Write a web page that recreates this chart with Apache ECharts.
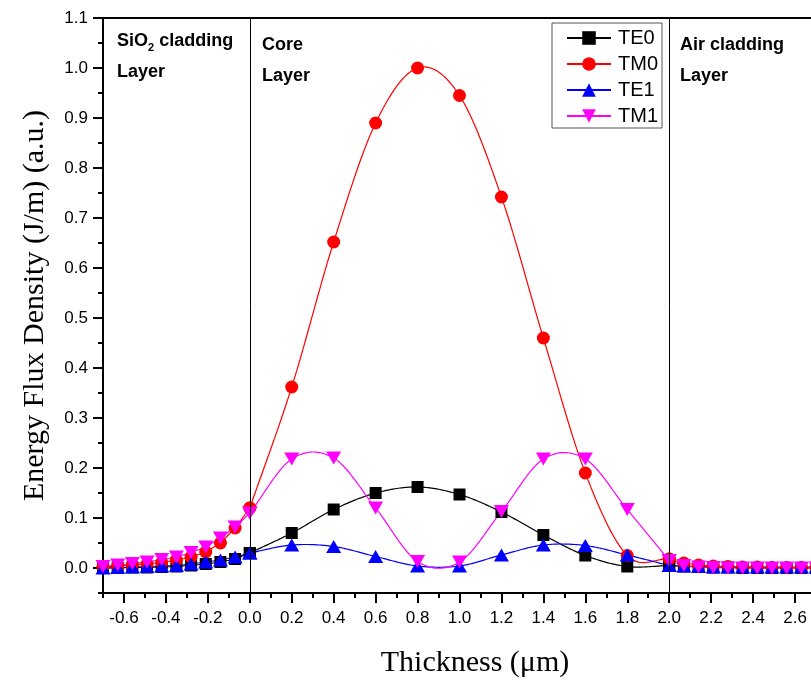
<!DOCTYPE html>
<html>
<head>
<meta charset="utf-8">
<script src="https://cdn.jsdelivr.net/npm/echarts@6/dist/echarts.min.js"></script>
<style>
html,body{margin:0;padding:0;background:#fff;}
#chart{width:811px;height:680px;}
</style>
</head>
<body>
<div id="chart"></div>
<script>
// ---- Data ----
var seriesNames = ['TE0', 'TM0', 'TE1', 'TM1'];

// Core layer (0 - 2.0 µm)
var coreX = [0, 0.2, 0.4, 0.6, 0.8, 1.0, 1.2, 1.4, 1.6, 1.8, 2.0];
var te0Core = [0.030, 0.070, 0.117, 0.150, 0.162, 0.147, 0.112, 0.066, 0.025, 0.003, 0.005];
var tm0Core = [0.120, 0.362, 0.652, 0.890, 1.000, 0.945, 0.742, 0.460, 0.190, 0.025, 0.018];
var te1Core = [0.030, 0.046, 0.043, 0.023, 0.004, 0.004, 0.026, 0.046, 0.045, 0.026, 0.005];
var tm1Core = [0.110, 0.218, 0.220, 0.120, 0.013, 0.012, 0.113, 0.218, 0.218, 0.117, 0.015];

// SiO2 cladding (left)
var leftX = [-0.7, -0.63, -0.56, -0.49, -0.42, -0.35, -0.28, -0.21, -0.14, -0.07, 0];
var te0Left = [0.000, 0.000, 0.001, 0.001, 0.002, 0.003, 0.005, 0.008, 0.012, 0.018, 0.030];
var tm0Left = [0.002, 0.004, 0.006, 0.008, 0.011, 0.016, 0.022, 0.032, 0.050, 0.080, 0.120];
var te1Left = [0.000, 0.001, 0.002, 0.003, 0.004, 0.005, 0.008, 0.012, 0.016, 0.022, 0.030];
var tm1Left = [0.003, 0.006, 0.009, 0.012, 0.017, 0.022, 0.031, 0.042, 0.060, 0.082, 0.110];

// Air cladding (right)
var rightX = [2.0, 2.07, 2.14, 2.21, 2.28, 2.35, 2.42, 2.49, 2.56, 2.63, 2.7];
var te0Right = [0.005, 0.003, 0.002, 0.001, 0.001, 0.000, 0.000, 0.000, 0.000, 0.000, 0.000];
var tm0Right = [0.018, 0.010, 0.006, 0.004, 0.003, 0.002, 0.002, 0.001, 0.001, 0.001, 0.001];
var te1Right = [0.005, 0.004, 0.003, 0.002, 0.002, 0.002, 0.002, 0.002, 0.002, 0.002, 0.002];
var tm1Right = [0.015, 0.005, 0.002, 0.001, 0.000, 0.000, 0.000, 0.000, 0.000, 0.000, 0.000];

// Tick values
var xMajorTicks = [-0.6, -0.4, -0.2, 0.0, 0.2, 0.4, 0.6, 0.8, 1.0, 1.2, 1.4, 1.6, 1.8, 2.0, 2.2, 2.4, 2.6];
var xMinorTicks = [-0.7, -0.5, -0.3, -0.1, 0.1, 0.3, 0.5, 0.7, 0.9, 1.1, 1.3, 1.5, 1.7, 1.9, 2.1, 2.3, 2.5, 2.7];
var yMajorTicks = [0, 0.1, 0.2, 0.3, 0.4, 0.5, 0.6, 0.7, 0.8, 0.9, 1.0, 1.1];
var yMinorTicks = [-0.05, 0.05, 0.15, 0.25, 0.35, 0.45, 0.55, 0.65, 0.75, 0.85, 0.95, 1.05];
var boundaries = [0, 2.0];

// ---- Styles ----
var colors = {TE0: '#000000', TM0: '#ff0000', TE1: '#0000ff', TM1: '#ff00ff'};
var symbols = {
  TE0: {symbol: 'rect', size: 12, rotate: 0},
  TM0: {symbol: 'circle', size: 13, rotate: 0},
  TE1: {symbol: 'triangle', size: [15, 13], rotate: 0},
  TM1: {symbol: 'triangle', size: [15, 13], rotate: 180}
};
function pairs(xs, ys) { return xs.map(function (x, i) { return [x, ys[i]]; }); }

var coreData = {TE0: te0Core, TM0: tm0Core, TE1: te1Core, TM1: tm1Core};
var leftData = {TE0: te0Left, TM0: tm0Left, TE1: te1Left, TM1: tm1Left};
var rightData = {TE0: te0Right, TM0: tm0Right, TE1: te1Right, TM1: tm1Right};

function mkSeries(name, xs, ys, showLine) {
  var s = symbols[name];
  return {
    type: 'line', name: name, data: pairs(xs, ys),
    smooth: false, symbol: s.symbol, symbolSize: s.size, symbolRotate: s.rotate,
    showAllSymbol: true, z: 3,
    lineStyle: {color: colors[name], width: 1.2, opacity: showLine ? 1 : 0},
    itemStyle: {color: colors[name], borderWidth: 0},
    emphasis: {disabled: true}, animation: false
  };
}

// Smooth curve through core points (Catmull-Rom, in pixel space from the axis scales)
function mkSpline(name) {
  var vals = coreData[name];
  return {
    type: 'custom', silent: true, z: 2, clip: true, animation: false,
    data: pairs(coreX, vals),
    encode: {x: 0, y: 1},
    renderItem: function (params, api) {
      if (params.dataIndex !== 0) return null;
      var P = coreX.map(function (x, i) { return api.coord([x, vals[i]]); });
      var n = P.length, out = [];
      function get(i) {
        if (i < 0) return [2 * P[0][0] - P[1][0], 2 * P[0][1] - P[1][1]];
        if (i >= n) return [2 * P[n - 1][0] - P[n - 2][0], 2 * P[n - 1][1] - P[n - 2][1]];
        return P[i];
      }
      for (var i = 0; i < n - 1; i++) {
        var p0 = get(i - 1), p1 = get(i), p2 = get(i + 1), p3 = get(i + 2);
        var steps = 24;
        for (var k = 0; k <= steps; k++) {
          if (i > 0 && k === 0) continue;
          var t = k / steps, t2 = t * t, t3 = t2 * t;
          var pt = [0, 1].map(function (d) {
            return 0.5 * ((2 * p1[d]) + (-p0[d] + p2[d]) * t +
              (2 * p0[d] - 5 * p1[d] + 4 * p2[d] - p3[d]) * t2 +
              (-p0[d] + 3 * p1[d] - 3 * p2[d] + p3[d]) * t3);
          });
          out.push(pt);
        }
      }
      return {
        type: 'polyline', shape: {points: out},
        style: {stroke: colors[name], lineWidth: 1.2, fill: null}
      };
    }
  };
}

var series = [];
series.push({
  type: 'line', data: [], z: 1, silent: true, animation: false,
  markLine: {
    silent: true, symbol: 'none', animation: false,
    label: {show: false},
    lineStyle: {color: '#000', width: 1, type: 'solid'},
    data: boundaries.map(function (b) { return {xAxis: b}; })
  }
});
seriesNames.forEach(function (n) { series.push(mkSeries(n, leftX, leftData[n], true)); });
seriesNames.forEach(function (n) { series.push(mkSeries(n, rightX, rightData[n], true)); });
seriesNames.forEach(function (n) { series.push(mkSpline(n)); });
seriesNames.forEach(function (n) { series.push(mkSeries(n, coreX, coreData[n], false)); });

var tickFont = {fontFamily: 'Liberation Sans', fontSize: 17, color: '#000'};

var option = {
  backgroundColor: '#fff',
  animation: false,
  grid: {left: 103, top: 18, width: 713, height: 575, containLabel: false, outerBoundsMode: 'none'},
  legend: {
    data: seriesNames,
    orient: 'vertical',
    left: 552, top: 23,
    padding: [5, 4, 2, 14],
    itemWidth: 44, itemHeight: 17, itemGap: 6,
    borderColor: '#555', borderWidth: 1,
    backgroundColor: '#fff',
    textStyle: {fontFamily: 'Liberation Sans', fontSize: 20, color: '#000', padding: [0, 0, 0, 2]}
  },
  xAxis: [
    {
      type: 'value', min: -0.7, max: 2.7, position: 'bottom',
      name: 'Thickness (\u03bcm)', nameLocation: 'middle', nameGap: 55,
      nameTextStyle: {fontFamily: 'Liberation Serif', fontSize: 30, color: '#000', padding: [0, 0, 0, 31]},
      axisLine: {show: true, onZero: false, lineStyle: {color: '#000', width: 2}},
      axisTick: {show: true, inside: false, length: 10, lineStyle: {color: '#000', width: 2}, customValues: xMajorTicks},
      axisLabel: Object.assign({margin: 17, customValues: xMajorTicks, formatter: function (v) { return v.toFixed(1); }}, tickFont),
      splitLine: {show: false}
    },
    {
      type: 'value', min: -0.7, max: 2.7, position: 'bottom',
      axisLine: {show: false, onZero: false},
      axisTick: {show: true, length: 5, lineStyle: {color: '#000', width: 2}, customValues: xMinorTicks},
      axisLabel: {show: false},
      splitLine: {show: false}
    },
    {
      type: 'value', min: -0.7, max: 2.7, position: 'top',
      axisLine: {show: true, onZero: false, lineStyle: {color: '#000', width: 2}},
      axisTick: {show: false}, axisLabel: {show: false}, splitLine: {show: false}
    }
  ],
  yAxis: [
    {
      type: 'value', min: -0.05, max: 1.1, position: 'left',
      name: 'Energy Flux Density (J/m) (a.u.)', nameLocation: 'middle', nameGap: 53,
      nameTextStyle: {fontFamily: 'Liberation Serif', fontSize: 30, color: '#000'},
      axisLine: {show: true, onZero: false, lineStyle: {color: '#000', width: 2}},
      axisTick: {show: true, length: 10, lineStyle: {color: '#000', width: 2}, customValues: yMajorTicks},
      axisLabel: Object.assign({margin: 15, customValues: yMajorTicks, formatter: function (v) { return v.toFixed(1); }}, tickFont),
      splitLine: {show: false}
    },
    {
      type: 'value', min: -0.05, max: 1.1, position: 'left',
      axisLine: {show: false, onZero: false},
      axisTick: {show: true, length: 5, lineStyle: {color: '#000', width: 2}, customValues: yMinorTicks},
      axisLabel: {show: false}, splitLine: {show: false}
    }
  ],
  graphic: [
    {
      type: 'text', left: 117, top: 30, z: 10,
      style: {
        text: '{b|SiO}{s|2}{b| cladding}\n{b|Layer}',
        rich: {
          b: {fontFamily: 'Liberation Sans', fontWeight: 'bold', fontSize: 18, lineHeight: 31, fill: '#000'},
          s: {fontFamily: 'Liberation Sans', fontWeight: 'bold', fontSize: 11, lineHeight: 31, padding: [12, 0, 0, 0], fill: '#000'}
        }
      }
    },
    {
      type: 'text', left: 262, top: 30, z: 10,
      style: {text: 'Core\nLayer', fontFamily: 'Liberation Sans', fontWeight: 'bold', fontSize: 18, lineHeight: 31, fill: '#000'}
    },
    {
      type: 'text', left: 680, top: 30, z: 10,
      style: {text: 'Air cladding\nLayer', fontFamily: 'Liberation Sans', fontWeight: 'bold', fontSize: 18, lineHeight: 31, fill: '#000'}
    }
  ],
  series: series
};

var chart = echarts.init(document.getElementById('chart'), null, {renderer: 'canvas'});
chart.setOption(option);
</script>
</body>
</html>
